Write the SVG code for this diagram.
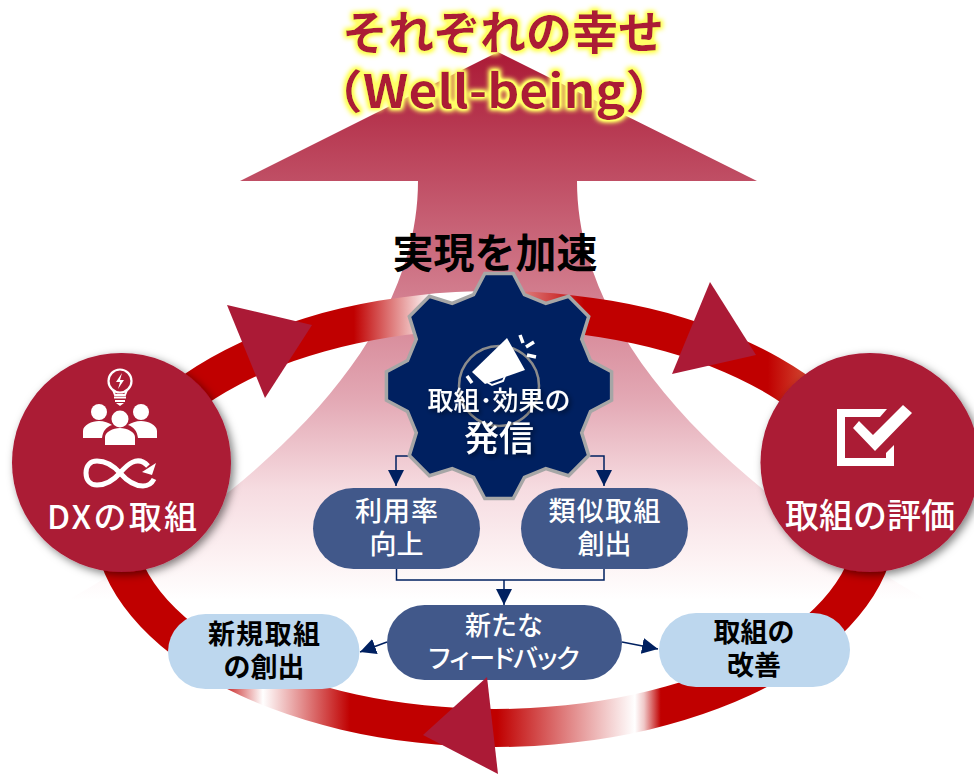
<svg xmlns="http://www.w3.org/2000/svg" width="974" height="774" viewBox="0 0 974 774">
<style>
text{font-family:"Noto Sans CJK JP","Noto Sans",sans-serif;text-anchor:middle}
.w{fill:#fff;font-weight:500}
.k{fill:#000;font-weight:700}
.dk{fill:#41588a}
.lt{fill:#bdd7ee}
.tri{fill:#ab1a36}
.conn{fill:none;stroke:#002060;stroke-width:1.5}
.title{fill:#ab1a36;font-weight:700;font-size:46px}
</style>
<defs>
<linearGradient id="up" gradientUnits="userSpaceOnUse" x1="0" y1="52" x2="0" y2="620">
<stop offset="0" stop-color="#ab1a36"/><stop offset="0.61" stop-color="#e3a8b4"/><stop offset="0.77" stop-color="#f6dce1"/><stop offset="0.897" stop-color="#fdf3f4"/><stop offset="0.965" stop-color="#fff"/>
</linearGradient>
<linearGradient id="ringTop" gradientUnits="userSpaceOnUse" x1="340" y1="0" x2="800" y2="0">
<stop offset="0.03" stop-color="#c00000"/><stop offset="0.2" stop-color="#fff"/><stop offset="0.28" stop-color="#fff"/><stop offset="0.4" stop-color="#dd7b7b"/><stop offset="0.53" stop-color="#c00000"/><stop offset="0.93" stop-color="#c00000"/><stop offset="1" stop-color="#cf3a28"/>
</linearGradient>
<linearGradient id="ringBot" gradientUnits="userSpaceOnUse" x1="200" y1="0" x2="680" y2="0">
<stop offset="0.04" stop-color="#c00000"/><stop offset="0.131" stop-color="#fff"/><stop offset="0.3125" stop-color="#c00000"/><stop offset="0.619" stop-color="#c00000"/><stop offset="0.906" stop-color="#fff"/><stop offset="0.925" stop-color="#f0c8c8"/><stop offset="0.96" stop-color="#c00000"/>
</linearGradient>
<filter id="glow" x="-15%" y="-30%" width="130%" height="160%">
<feMorphology in="SourceAlpha" operator="dilate" radius="2"/>
<feGaussianBlur stdDeviation="2.5"/>
<feComponentTransfer result="a"><feFuncA type="linear" slope="1.5"/></feComponentTransfer>
<feFlood flood-color="#ffff66"/><feComposite in2="a" operator="in"/>
<feMerge><feMergeNode/><feMergeNode in="SourceGraphic"/></feMerge>
</filter>
<filter id="sh" x="-15%" y="-15%" width="135%" height="135%"><feDropShadow dx="3" dy="3" stdDeviation="4" flood-color="#000" flood-opacity="0.5"/></filter>
<filter id="tsh" x="-15%" y="-30%" width="135%" height="170%"><feDropShadow dx="2" dy="2" stdDeviation="2.5" flood-color="#000" flood-opacity="0.55"/></filter>
<marker id="ah" markerUnits="userSpaceOnUse" markerWidth="18" markerHeight="18" refX="16" refY="8" orient="auto"><path d="M0 0L16 8L0 16Z" fill="#002060"/></marker>
</defs>

<g id="big-arrow">
<path d="M498 52L757 181H577C577 350 745 500 945 610H50C250 500 418 350 418 181H240Z" fill="url(#up)"/>
</g>

<g id="ring">
<path d="M93 519A402 228 0 0 1 897 519H857A362 190 0 0 0 133 519Z" fill="url(#ringTop)"/>
<path d="M93 519A402 228 0 0 0 897 519H857A362 190 0 0 1 133 519Z" fill="url(#ringBot)"/>
</g>

<g id="accelerate-label"><text x="495" y="268" font-size="41" style="font-weight:700" fill="#000">実現を加速</text></g>

<g id="connectors">
<path class="conn" marker-end="url(#ah)" d="M409 456H396V486"/>
<path class="conn" marker-end="url(#ah)" d="M590 456H604V486"/>
<path class="conn" d="M396.500 569V580H604V569"/>
<path class="conn" marker-end="url(#ah)" d="M504 580V605"/>
<path class="conn" marker-end="url(#ah)" d="M387 642L360 652"/>
<path class="conn" marker-end="url(#ah)" d="M622 642L658 649"/>
</g>

<g id="gear">
<polygon points="513.200,273.400 524.400,294.500 545.800,303.300 568.600,296.300 588.700,316.400 581.700,339.200 590.500,360.600 611.600,371.800 611.600,400.200 590.500,411.400 581.700,432.800 588.700,455.600 568.600,475.700 545.800,468.700 524.400,477.500 513.200,498.600 484.800,498.600 473.600,477.500 452.200,468.700 429.400,475.700 409.300,455.600 416.300,432.800 407.500,411.400 386.400,400.200 386.400,371.800 407.500,360.600 416.300,339.200 409.300,316.400 429.400,296.300 452.200,303.300 473.600,294.500 484.800,273.400" fill="#002060" stroke="#a6a6a6" stroke-width="3.500"/>
<circle cx="499" cy="386" r="40" fill="none" stroke="#8c8c8c" stroke-width="2.500"/>
<path d="M507 338L525 370L485 384L472 372Z" fill="#fff"/>
<path d="M487 382L492 385L503 381L505 376" fill="none" stroke="#fff" stroke-width="2"/>
<path d="M467 376L472 383M520 335L523 343M526 347L534 342M527 355L536 357" fill="none" stroke="#fff" stroke-width="3.500"/>
<text class="w" x="499" y="410" font-size="26" filter="url(#tsh)">取組･効果の</text>
<text class="w" x="499" y="451" font-size="35" filter="url(#tsh)">発信</text>
</g>

<g id="dx-node">
<circle cx="121.500" cy="462.500" r="109.500" fill="#ab1a36" filter="url(#sh)"/>
<circle cx="120" cy="381" r="11.500" fill="none" stroke="#fff" stroke-width="2.200"/>
<path d="M113 390L115 395H125L127 390" fill="none" stroke="#fff" stroke-width="2"/>
<path d="M114 397.500H126M115 401H125" stroke="#fff" stroke-width="2" fill="none"/>
<path d="M116 403H124L120 406Z" fill="#fff"/>
<path d="M122 373L116 382H120L118 389L124 380H120Z" fill="#fff"/>
<circle cx="99" cy="412" r="8" fill="#fff"/><circle cx="141" cy="412" r="8" fill="#fff"/><circle cx="120" cy="419" r="8.500" fill="#fff"/>
<path d="M83 438V431C83 425 92 421 99 421C104 421 109 423 112 425C106 427 103 431 102 438Z" fill="#fff"/>
<path d="M157 438V431C157 425 148 421 141 421C136 421 131 423 128 425C134 427 137 431 138 438Z" fill="#fff"/>
<path d="M105 445V437C105 432 113 428 120 428C127 428 135 432 135 437V445Z" fill="#fff"/>
<path d="M148 466C137 454 126 466 120 473C112 482 104 485 97 485C90 485 86 480 86 473C86 466 90 461 97 461C104 461 112 464 120 473C128 482 136 486 143 486C149 486 152 483 154 479" fill="none" stroke="#fff" stroke-width="5"/>
<path d="M156 463L152 475L142 472Z" fill="#fff"/>
<text class="w" x="122" y="529" font-size="33" textLength="150">DXの取組</text>
</g>

<g id="eval-node">
<circle cx="870" cy="462.500" r="109.500" fill="#ab1a36" filter="url(#sh)"/>
<path d="M837 409H887L880 417H845V458H886V453L894 445V466H837Z" fill="#fff"/>
<path d="M853 428L859 421L873 435L903 405L912 413L875 451Z" fill="#fff"/>
<text class="w" x="870" y="528" font-size="34">取組の評価</text>
</g>

<g id="usage-node"><rect class="dk" x="313" y="488" width="167" height="81" rx="40.500"/>
<text class="w" x="396.500" y="521" font-size="27" textLength="83">利用率</text><text class="w" x="396.500" y="554" font-size="27">向上</text></g>

<g id="similar-node"><rect class="dk" x="521" y="488" width="167" height="81" rx="40.500"/>
<text class="w" x="604.500" y="521" font-size="27" textLength="112">類似取組</text><text class="w" x="604.500" y="554" font-size="27">創出</text></g>

<g id="feedback-node"><rect class="dk" x="387" y="605" width="235" height="75" rx="37.500"/>
<text class="w" x="504" y="635" font-size="26">新たな</text><text class="w" x="504" y="668" font-size="26" textLength="155">フィードバック</text></g>

<g id="new-node"><rect class="lt" x="168" y="614" width="191.500" height="75" rx="37.500"/>
<text class="k" x="264" y="644" font-size="27" textLength="112">新規取組</text><text class="k" x="264" y="677" font-size="27">の創出</text></g>

<g id="improve-node"><rect class="lt" x="659" y="613" width="191" height="74" rx="37"/>
<text class="k" x="754" y="642" font-size="27">取組の</text><text class="k" x="754" y="675" font-size="27">改善</text></g>

<g id="ring-arrows">
<polygon class="tri" points="227,305 312,325 265,398"/>
<polygon class="tri" points="710,282 756,355 672,374"/>
<polygon class="tri" points="487,677 423,735 498,774"/>
</g>

<g id="title" filter="url(#glow)">
<text class="title" x="503" y="49">それぞれの幸せ</text>
<text class="title" x="494" y="108" textLength="362" lengthAdjust="spacingAndGlyphs">（Well-being）</text>
</g>
</svg>
